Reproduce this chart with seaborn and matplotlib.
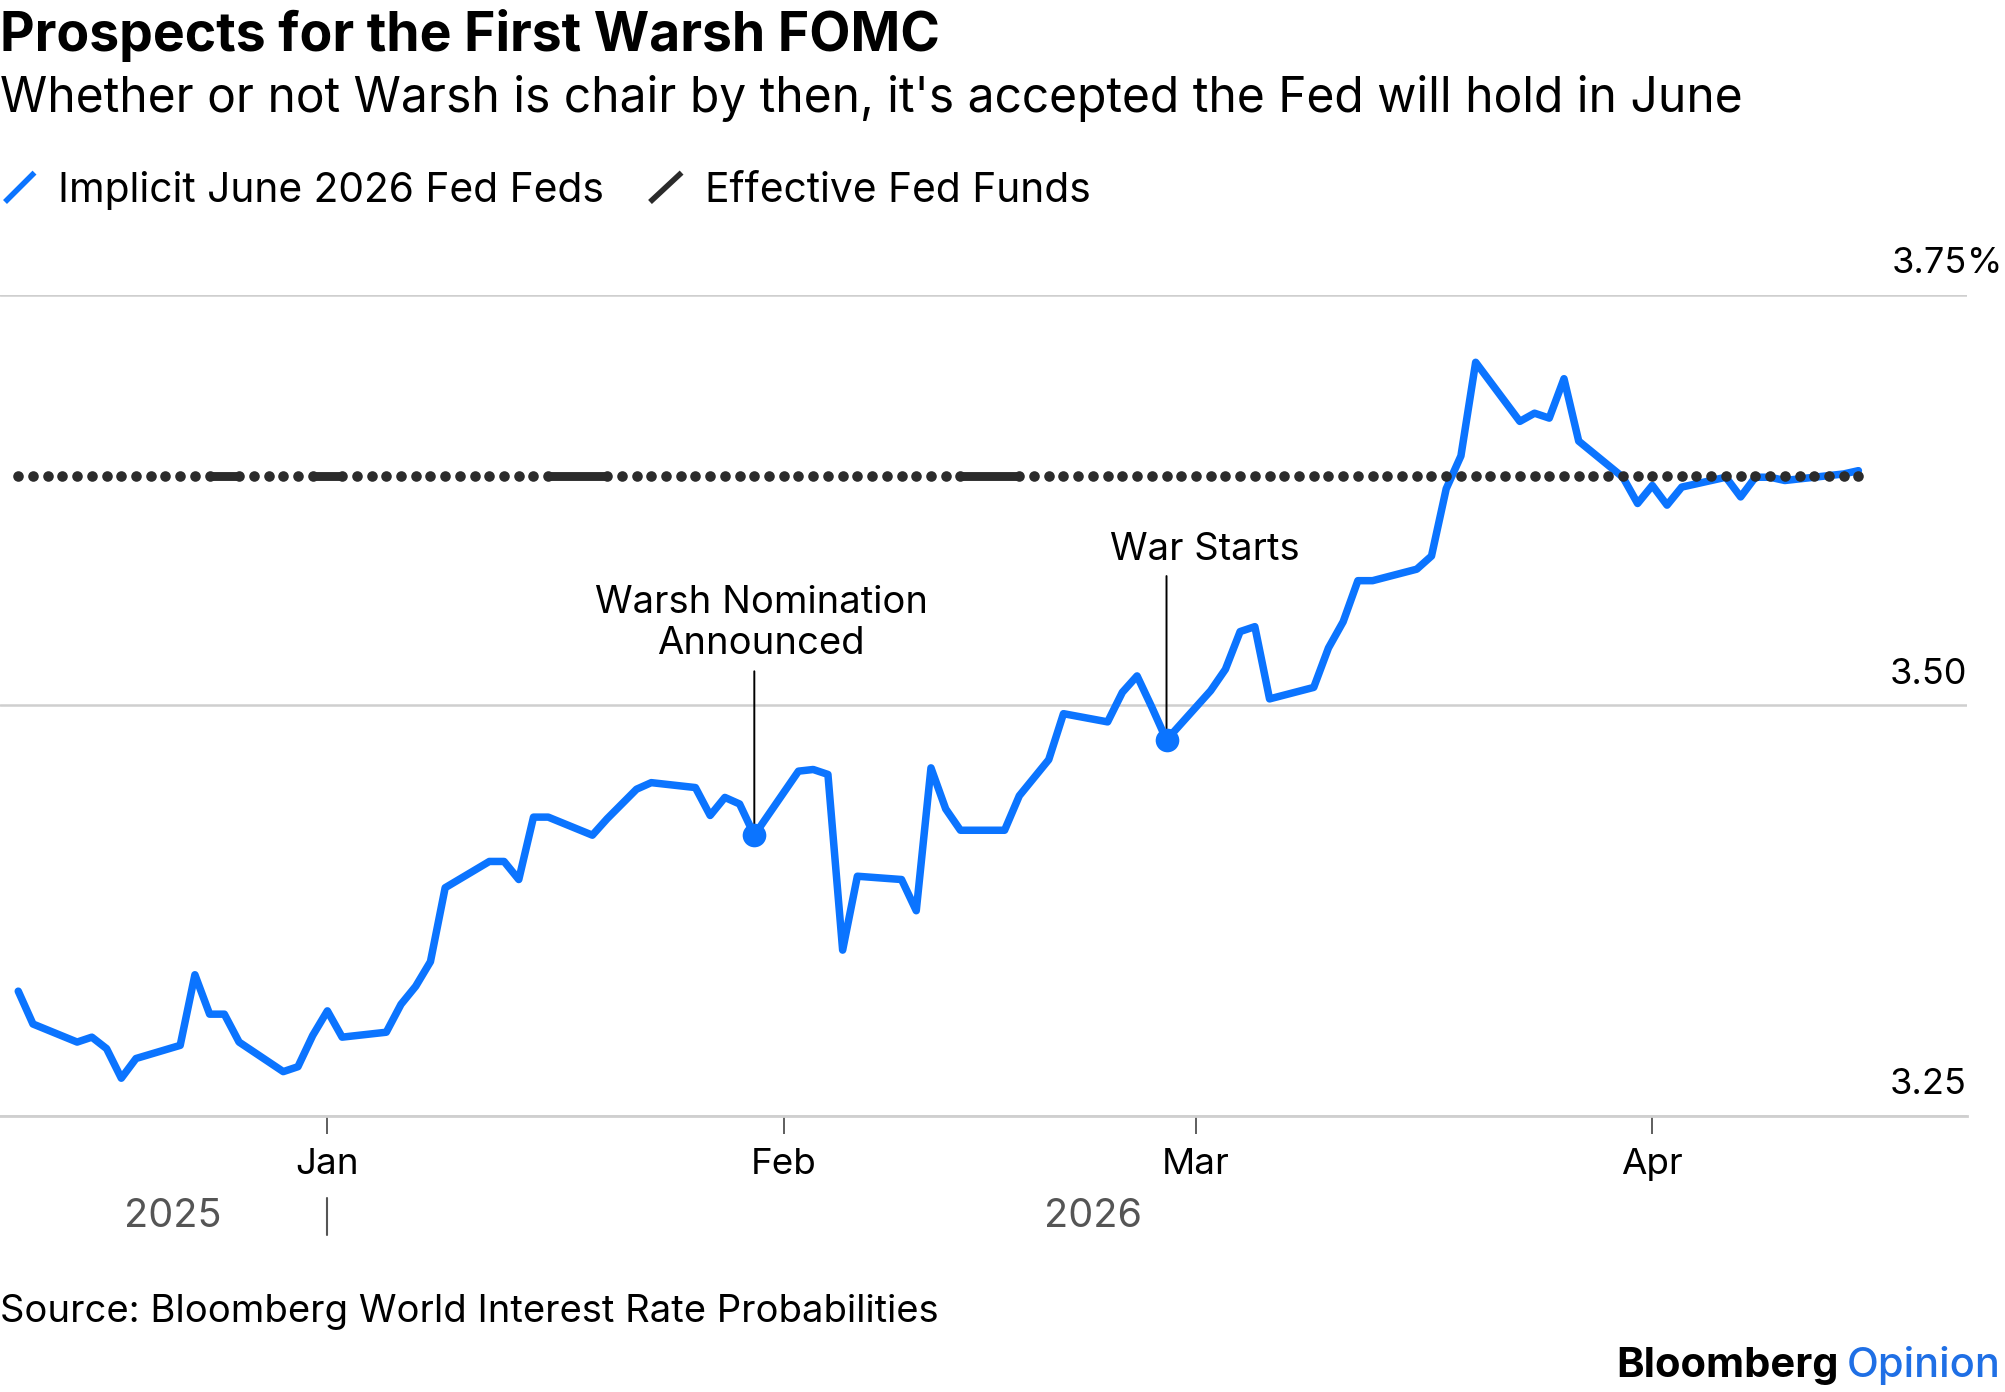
import pandas as pd
import numpy as np
import seaborn as sns
import matplotlib.pyplot as plt
import matplotlib.dates as mdates
from matplotlib.lines import Line2D

# ---- data ----
dates = pd.bdate_range("2025-12-11", "2026-04-15")
implied = [
    # Dec 2025
    3.326, 3.306, 3.295, 3.298, 3.291, 3.273, 3.285, 3.293, 3.336, 3.312,
    3.312, 3.295, 3.277, 3.280, 3.299,
    # Jan 2026
    3.314, 3.298, 3.301, 3.318, 3.329, 3.344, 3.389, 3.405, 3.405, 3.394,
    3.432, 3.432, 3.421, 3.431, 3.440, 3.449, 3.453, 3.450, 3.433, 3.444,
    3.440, 3.421,
    # Feb
    3.460, 3.461, 3.458, 3.351, 3.396, 3.394, 3.375, 3.462, 3.437, 3.424,
    3.424, 3.445, 3.456, 3.467, 3.495, 3.490, 3.508, 3.518, 3.499, 3.479,
    # Mar
    3.509, 3.522, 3.545, 3.548, 3.504, 3.511, 3.535, 3.551, 3.576, 3.576,
    3.583, 3.591, 3.632, 3.652, 3.709, 3.673, 3.678, 3.675, 3.699, 3.661,
    3.639, 3.623,
    # Apr
    3.634, 3.622, 3.633, 3.639, 3.627, 3.639, 3.639, 3.637, 3.640, 3.641,
    3.643,
]

effr_value = 3.64
effr_missing = ["2025-12-25", "2026-01-01", "2026-01-17", "2026-01-18",
                "2026-01-19", "2026-02-14", "2026-02-15", "2026-02-16"]

series_names = ["Implicit June 2026 Fed Feds", "Effective Fed Funds"]
event_labels = ["Warsh Nomination\nAnnounced", "War Starts"]
event_dates = ["2026-01-30", "2026-02-27"]

y_ticks = [3.25, 3.50, 3.75]
y_tick_labels = ["3.25", "3.50", "3.75"]
month_ticks = ["2026-01-01", "2026-02-01", "2026-03-01", "2026-04-01"]
month_labels = ["Jan", "Feb", "Mar", "Apr"]

title = "Prospects for the First Warsh FOMC"
subtitle = "Whether or not Warsh is chair by then, it's accepted the Fed will hold in June"
source = "Source: Bloomberg World Interest Rate Probabilities"

BLUE = "#0b74ff"
DARK = "#2b2b2b"
GRID = "#cfcfcf"
INK = "#000000"

# ---- frames ----
df = pd.DataFrame({"date": dates, "rate": implied})
effr_dates = pd.date_range(dates[0], dates[-1]).difference(pd.to_datetime(effr_missing))
effr = pd.DataFrame({"date": effr_dates, "rate": np.full(len(effr_dates), effr_value)})
ev = df[df["date"].isin(pd.to_datetime(event_dates))]

# ---- figure ----
sns.set_theme(style="white")
plt.rcParams["font.family"] = ["Inter", "DejaVu Sans"]
plt.rcParams["text.color"] = INK

fig = plt.figure(figsize=(20.05, 13.92), dpi=100)
ax = fig.add_axes([0.0, 0.1983, 0.981, 0.5898])

sns.lineplot(data=df, x="date", y="rate", ax=ax, color=BLUE, lw=5.4, zorder=3)
sns.scatterplot(data=ev, x="date", y="rate", ax=ax, color=BLUE, s=290,
                linewidth=0, zorder=4)

# effective fed funds: daily dots, solid where holiday data is missing
sns.scatterplot(data=effr, x="date", y="rate", ax=ax, color=DARK, s=58,
                linewidth=0, zorder=5)
gaps = effr["date"].diff() > pd.Timedelta(days=1)
for i in np.where(gaps)[0]:
    seg = effr.iloc[i - 1:i + 1]
    ax.plot(seg["date"], seg["rate"], color=DARK, lw=6.4,
            solid_capstyle="round", zorder=5)

# axes
jan1 = pd.Timestamp("2026-01-01")
ax.set_xlim(jan1 - pd.Timedelta(days=22.24), jan1 + pd.Timedelta(days=111.37))
ax.set_ylim(3.25, 3.75)
ax.set_xlabel("")
ax.set_ylabel("")
for s in ["top", "left", "right"]:
    ax.spines[s].set_visible(False)
ax.spines["bottom"].set_color(GRID)
ax.spines["bottom"].set_linewidth(2)

ax.set_yticks(y_ticks)
ax.tick_params(axis="y", length=0, labelleft=False)
ax.grid(axis="y", color=GRID, lw=1.8)
ax.grid(axis="x", visible=False)

ax.set_xticks(pd.to_datetime(month_ticks))
ax.set_xticklabels(month_labels)
ax.tick_params(axis="x", length=13, width=1.1, color="#333333", pad=10,
               labelsize=26.5, labelcolor=INK, bottom=True)

ytr = ax.get_yaxis_transform()
for v, lab in zip(y_ticks, y_tick_labels):
    ax.annotate(lab, xy=(1, v), xycoords=ytr, xytext=(0, 15.5),
                textcoords="offset points", ha="right", va="baseline",
                fontsize=26, color=INK, annotation_clip=False)
ax.annotate("%", xy=(1, y_ticks[-1]), xycoords=ytr, xytext=(0, 15.5),
            textcoords="offset points", ha="left", va="baseline",
            fontsize=26, color=INK, annotation_clip=False)

# year row
xtr = ax.get_xaxis_transform()
years = [("2025", dates[0] + (jan1 - dates[0]) / 2),
         ("2026", jan1 + (dates[-1] - jan1) / 2)]
for lab, d in years:
    ax.text(mdates.date2num(d), -0.1358, lab, transform=xtr, ha="center",
            va="baseline", fontsize=28.5, color="#555555")
ax.plot([jan1, jan1], [-0.0999, -0.145], transform=xtr, color="#555555",
        lw=1.5, clip_on=False)

# event annotations
offsets = [(5.0, 130.7), (27.6, 129.5)]
for lab, d, (dx, dy) in zip(event_labels, event_dates, offsets):
    row = df[df["date"] == pd.Timestamp(d)].iloc[0]
    xy = (mdates.date2num(row["date"]), row["rate"])
    ax.annotate("", xy=xy, xytext=(0, 118), textcoords="offset points",
                arrowprops=dict(arrowstyle="-", color="black", lw=1.4,
                                shrinkA=0, shrinkB=0), zorder=2)
    ax.annotate(lab, xy=xy, xytext=(dx, dy), textcoords="offset points",
                ha="center", va="baseline", fontsize=27.5, linespacing=1.18,
                color=INK, multialignment="center")

# header
fig.text(0.0, 0.9633, title, fontsize=38.5, weight="bold", va="baseline")
fig.text(0.0, 0.9192, subtitle, fontsize=34.5, va="baseline")

# legend
fig.add_artist(Line2D([5 / 2005, 34.5 / 2005], [1 - 202 / 1392, 1 - 172.6 / 1392],
                      color=BLUE, lw=4, solid_capstyle="butt"))
fig.text(0.0287, 0.8549, series_names[0], fontsize=29.3, va="baseline")
fig.add_artist(Line2D([650 / 2005, 681.6 / 2005], [1 - 202 / 1392, 1 - 172.6 / 1392],
                      color=DARK, lw=4, solid_capstyle="butt"))
fig.text(0.3514, 0.8549, series_names[1], fontsize=29.3, va="baseline")

# footer
fig.text(0.0, 0.0503, source, fontsize=27.5, va="baseline", color=INK)
op = fig.text(0.998, 0.0108, "Opinion", fontsize=30, ha="right",
              va="baseline", color="#1f6fe5", weight="medium")
bb = fig.text(0.998, 0.0108, "Bloomberg", fontsize=30, weight="bold",
              color=INK, ha="right", va="baseline")
fig.canvas.draw()
w = op.get_window_extent().width / fig.bbox.width
bb.set_position((0.998 - w - 0.004, 0.0108))

fig.savefig("out.png", dpi=100)
